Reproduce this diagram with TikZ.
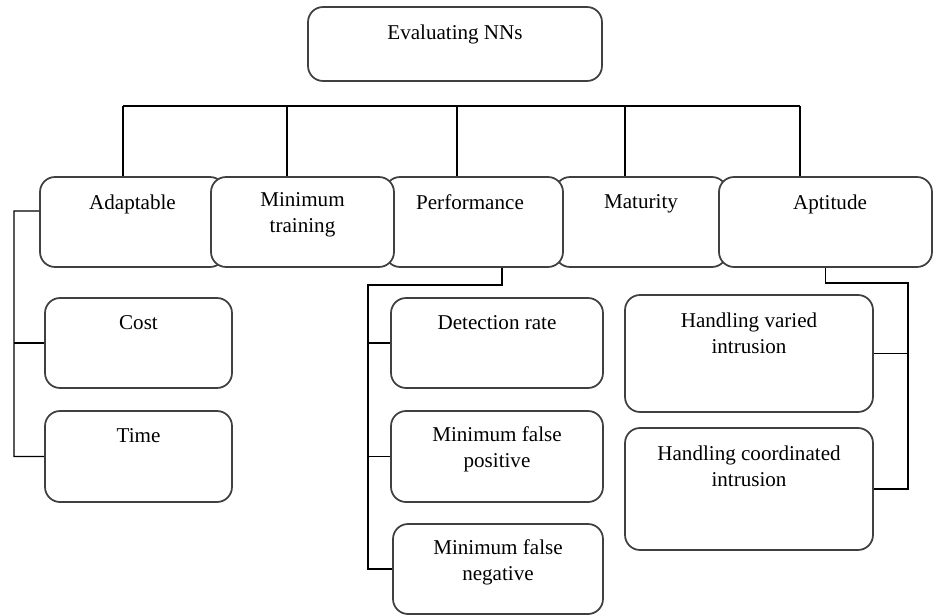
\documentclass[tikz,border=0pt]{standalone}
\usepackage{fontspec}
\setmainfont{Liberation Serif}
\usetikzlibrary{positioning}
\tikzset{
  box/.style={draw=black!75, line width=1pt, rounded corners=0.3cm, fill=white,
    inner sep=0pt, minimum height=1.8cm},
  tag/.style={anchor=north, yshift=-0.36cm, align=center, inner sep=0pt,
    font=\fontsize{12}{14.8}\selectfont},
  link/.style={line width=0.8pt}
}

\begin{document}
\begin{tikzpicture}[x=0.02cm, y=-0.02cm]
\useasboundingbox (0,0) rectangle (933,615);

% root
\node[box, minimum width=5.88cm, minimum height=1.48cm, label={[tag]north:Evaluating NNs}] (eval) at (455,44) {};

% criteria row, back to front
\node[box, minimum width=3.7cm, label={[tag]north:Adaptable}] (adapt) at (132.5,222) {};
\node[box, minimum width=3.44cm, label={[tag]north:Maturity}] (matur) at (641,222) {};
\node[box, minimum width=3.56cm, label={[tag, xshift=-0.08cm]north:Performance}] (perf) at (474,222) {};
\node[box, minimum width=3.66cm, label={[tag, yshift=0.04cm]north:Minimum\\training}] (mintrain) at (302.5,222) {};
\node[box, minimum width=4.26cm, label={[tag, xshift=0.09cm]north:Aptitude}] (apt) at (825.5,222) {};

% sub-criteria
\node[box, minimum width=3.74cm, label={[tag]north:Cost}] (cost) at (138.5,343) {};
\node[box, minimum width=3.74cm, minimum height=1.82cm, label={[tag]north:Time}] (time) at (138.5,456.5) {};
\node[box, minimum width=4.24cm, label={[tag]north:Detection rate}] (det) at (497,343) {};
\node[box, minimum width=4.24cm, minimum height=1.82cm, label={[tag, yshift=0.04cm]north:Minimum false\\positive}] (mfp) at (497,456.5) {};
\node[box, minimum width=4.2cm, label={[tag, yshift=0.04cm]north:Minimum false\\negative}] (mfn) at (498,569) {};
\node[box, minimum width=4.96cm, minimum height=2.34cm, label={[tag]north:Handling varied\\intrusion}] (hvar) at (749,353.5) {};
\node[box, minimum width=4.96cm, minimum height=2.44cm, label={[tag]north:Handling coordinated\\intrusion}] (hcoord) at (749,489) {};

% bus under the root
\coordinate (busl) at (123,106);
\coordinate (busr) at (800,106);
\draw[link] (busl) -- (busr);
\draw[link] (busl) -- (busl |- adapt.north);
\draw[link] ([xshift=-0.31cm]mintrain.north) |- (busl);
\draw[link] ([xshift=-0.34cm]perf.north) |- (busl);
\draw[link] ([xshift=-0.32cm]matur.north) |- (busl);
\draw[link] (busr) -- (busr |- apt.north);

% adaptable branch
\coordinate (dk) at (14,211);
\draw[link] ([yshift=0.22cm]adapt.west) -- (dk) |- (time.west);
\draw[link] (dk |- cost.west) -- (cost.west);

% performance branch
\coordinate (pk) at (368,285);
\draw[link] ([xshift=0.56cm]perf.south) |- (pk) |- (mfn.west);
\draw[link] (pk |- det.west) -- (det.west);
\draw[link] (pk |- mfp.west) -- (mfp.west);

% aptitude branch
\coordinate (ak) at (908,283);
\draw[link] (apt.south) |- (ak) |- (hcoord.east);
\draw[link] (ak |- hvar.east) -- (hvar.east);
\end{tikzpicture}
\end{document}
